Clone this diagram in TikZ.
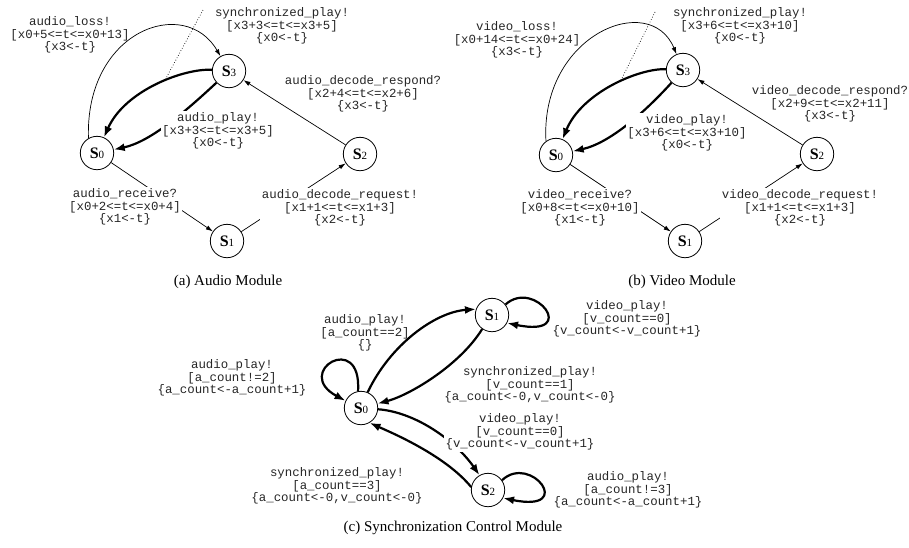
\documentclass[tikz,border=0pt]{standalone}
\usepackage{fontspec}
\setmainfont{Liberation Serif}
\setmonofont{Liberation Mono}
\usetikzlibrary{arrows.meta}
\tikzset{
  state/.style={circle, draw, line width=0.8pt, minimum size=33.4pt, inner sep=0pt, fill=white},
  lbl/.style={align=center, font=\fontsize{12.4}{12.6}\selectfont\ttfamily, text=black!85, inner sep=1.5pt},
  mask/.style={lbl, fill=white},
  thinarr/.style={line width=0.7pt, -{Latex[length=7pt,width=4.5pt]}},
  thickarr/.style={line width=2.2pt, -{Latex[length=11pt,width=8pt]}},
  loopedge/.style={thickarr},
  leader/.style={dotted, line width=0.7pt},
  caption/.style={font=\fontsize{15}{15}\selectfont, inner sep=0pt},
}
\newcommand{\stname}[1]{{\fontsize{16}{16}\selectfont\bfseries S}{\fontsize{11}{11}\selectfont #1}}
\begin{document}
\begin{tikzpicture}[x=1pt, y=-1pt]
\useasboundingbox (0,0) rectangle (909,547);

% ---------------- (a) audio module ----------------
\node[state] (s3a) at (229,71) {\stname3};
\node[state] (s0a) at (97,153) {\stname0};
\node[state] (s2a) at (360,154) {\stname2};
\node[state] (s1a) at (227,241) {\stname1};

\draw[thinarr] (s0a.120) .. controls (85,30) and (185,-5) .. (s3a);
\draw[thickarr] (s3a) .. controls (185,68) and (125,90) .. (s0a) coordinate[pos=0.43] (synca);
\coordinate (leada) at (203,10);
\draw[leader] (leada) -- (synca);
\draw[thickarr] (s3a) .. controls (185,112) and (150,142) .. (s0a);
\draw[thinarr] (s0a) -- (s1a);
\draw[thinarr] (s1a) -- (s2a);
\draw[thinarr] (s2a) -- (s3a);

\node[lbl] (la1) at (70,35) {audio\_loss!\\{}[x0+5<=t<=x0+13]\\\{x3<-t\}};
\node[lbl] (la2) at (282,26) {synchronized\_play!\\{}[x3+3<=t<=x3+5]\\\{x0<-t\}};
\node[mask] (la3) at (218,131) {audio\_play!\\{}[x3+3<=t<=x3+5]\\\{x0<-t\}};
\node[mask] (la4) at (125,207) {audio\_receive?\\{}[x0+2<=t<=x0+4]\\\{x1<-t\}};
\node[mask] (la5) at (340,208) {audio\_decode\_request!\\{}[x1+1<=t<=x1+3]\\\{x2<-t\}};
\node[lbl] (la6) at (363,94) {audio\_decode\_respond?\\{}[x2+4<=t<=x2+6]\\\{x3<-t\}};

\node[caption] (capa) at (228,282) {(a) Audio Module};

% ---------------- (b) video module ----------------
\node[state] (s3b) at (683,70) {\stname3};
\node[state] (s0b) at (556,155) {\stname0};
\node[state] (s2b) at (817,154) {\stname2};
\node[state] (s1b) at (685,241) {\stname1};

\draw[thinarr] (s0b.126) .. controls (540,35) and (650,-10) .. (s3b);
\draw[thickarr] (s3b) .. controls (640,68) and (582,92) .. (s0b) coordinate[pos=0.43] (syncb);
\coordinate (leadb) at (655,12);
\draw[leader] (leadb) -- (syncb);
\draw[thickarr] (s3b) .. controls (645,112) and (610,143) .. (s0b);
\draw[thinarr] (s0b) -- (s1b);
\draw[thinarr] (s1b) -- (s2b);
\draw[thinarr] (s2b) -- (s3b);

\node[lbl] (lb1) at (517,40) {video\_loss!\\{}[x0+14<=t<=x0+24]\\\{x3<-t\}};
\node[lbl] (lb2) at (740,26) {synchronized\_play!\\{}[x3+6<=t<=x3+10]\\\{x0<-t\}};
\node[mask] (lb3) at (687,133) {video\_play!\\{}[x3+6<=t<=x3+10]\\\{x0<-t\}};
\node[mask] (lb4) at (580,208) {video\_receive?\\{}[x0+8<=t<=x0+10]\\\{x1<-t\}};
\node[mask] (lb5) at (800,208) {video\_decode\_request!\\{}[x1+1<=t<=x1+3]\\\{x2<-t\}};
\node[lbl] (lb6) at (830,104) {video\_decode\_respond?\\{}[x2+9<=t<=x2+11]\\\{x3<-t\}};

\node[caption] (capb) at (682,282) {(b) Video Module};

% ---------------- (c) synchronization control module ----------------
\node[state] (s0c) at (361,408) {\stname0};
\node[state] (s1c) at (492,315) {\stname1};
\node[state] (s2c) at (488,490) {\stname2};

\draw[loopedge] (s0c.100) .. controls (362,330) and (292,372) .. (s0c.155);
\draw[loopedge] (s1c.38) .. controls (535,278) and (580,338) .. (s1c.-28);
\draw[loopedge] (s2c.35) .. controls (531,453) and (576,513) .. (s2c.-28);
\draw[thickarr] (s0c.67) .. controls (390,345) and (435,312) .. (s1c.160);
\draw[thickarr] (s1c.235) .. controls (460,365) and (410,395) .. (s0c);
\draw[thickarr] (s0c) .. controls (415,412) and (455,440) .. (s2c.120);
\draw[thickarr] (s2c.170) .. controls (445,455) and (390,432) .. (s0c.-60);

\node[lbl] (lc1) at (232,378) {audio\_play!\\{}[a\_count!=2]\\\{a\_count<-a\_count+1\}};
\node[lbl] (lc2) at (365,333) {audio\_play!\\{}[a\_count==2]\\\{\}};
\node[lbl] (lc3) at (627,319) {video\_play!\\{}[v\_count==0]\\\{v\_count<-v\_count+1\}};
\node[lbl] (lc4) at (530,385) {synchronized\_play!\\{}[v\_count==1]\\\{a\_count<-0,v\_count<-0\}};
\node[mask] (lc5) at (520,432) {video\_play!\\{}[v\_count==0]\\\{v\_count<-v\_count+1\}};
\node[lbl] (lc6) at (337,486) {synchronized\_play!\\{}[a\_count==3]\\\{a\_count<-0,v\_count<-0\}};
\node[lbl] (lc7) at (628,490) {audio\_play!\\{}[a\_count!=3]\\\{a\_count<-a\_count+1\}};

\node[caption] (capc) at (453,528) {(c) Synchronization Control Module};
\end{tikzpicture}
\end{document}
